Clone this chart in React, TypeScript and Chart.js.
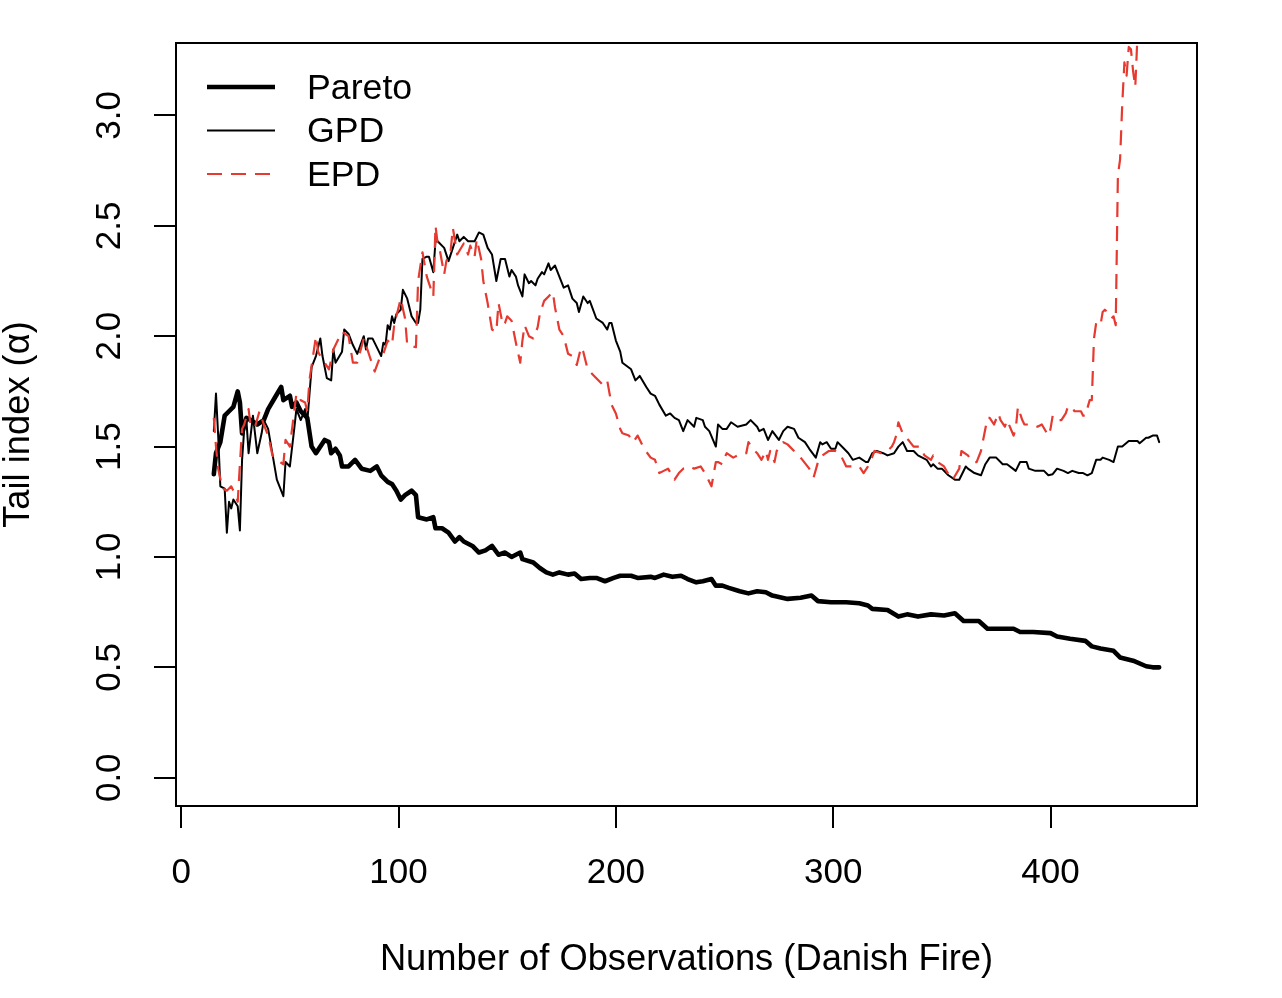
import React, { useEffect, useRef } from 'react';
import { Chart, registerables } from 'chart.js';

Chart.register(...registerables);

const xTicks = [0, 100, 200, 300, 400];
const yTicks = [0, 0.5, 1, 1.5, 2, 2.5, 3];
const xLimits = [-2.4, 467.4];
const yLimits = [-0.128, 3.328];
const xTitle = 'Number of Observations (Danish Fire)';
const yTitle = 'Tail index (\u03b1)';
const seriesLabels = ['Pareto', 'GPD', 'EPD'];

const paretoPoints: [number, number][] = [
  [15, 1.375], [16, 1.47], [18, 1.52], [20, 1.64], [22, 1.66], [24, 1.68], [26, 1.75], [27, 1.70], [28, 1.56], [30, 1.63],
  [32, 1.62], [35, 1.60], [38, 1.62], [40, 1.67], [43, 1.72], [46, 1.77], [47, 1.71], [50, 1.73], [51, 1.68], [53, 1.70],
  [55, 1.66], [58, 1.63], [60, 1.50], [62, 1.47], [66, 1.53], [68, 1.52], [69, 1.47], [71, 1.49], [73, 1.46], [74, 1.41],
  [77, 1.41], [80, 1.44], [83, 1.40], [87, 1.39], [90, 1.41], [92, 1.37], [95, 1.34], [97, 1.33], [99, 1.30], [101, 1.26],
  [103, 1.28], [106, 1.30], [108, 1.28], [109, 1.18], [113, 1.17], [116, 1.18], [117, 1.13], [120, 1.13], [123, 1.11], [126, 1.07],
  [128, 1.09], [130, 1.07], [134, 1.05], [137, 1.02], [140, 1.03], [143, 1.05], [146, 1.01], [149, 1.02], [152, 1.00], [156, 1.02],
  [157, 0.99], [162, 0.975], [165, 0.95], [168, 0.93], [171, 0.92], [174, 0.93], [178, 0.92], [181, 0.925], [184, 0.90], [188, 0.905],
  [191, 0.905], [195, 0.89], [199, 0.905], [202, 0.915], [207, 0.915], [210, 0.905], [216, 0.91], [218, 0.905], [222, 0.92], [226, 0.91],
  [230, 0.915], [233, 0.90], [237, 0.885], [240, 0.89], [244, 0.90], [246, 0.87], [249, 0.87], [252, 0.86], [257, 0.845], [261, 0.835],
  [265, 0.845], [269, 0.84], [272, 0.825], [279, 0.81], [285, 0.815], [290, 0.825], [293, 0.80], [299, 0.795], [306, 0.795], [312, 0.79],
  [316, 0.78], [318, 0.765], [325, 0.76], [330, 0.73], [334, 0.74], [339, 0.73], [345, 0.74], [351, 0.735], [356, 0.745], [360, 0.71],
  [367, 0.71], [371, 0.675], [377, 0.675], [383, 0.675], [386, 0.66], [392, 0.66], [400, 0.655], [403, 0.64], [409, 0.63], [416, 0.62],
  [419, 0.595], [423, 0.585], [429, 0.575], [432, 0.545], [438, 0.53], [444, 0.505], [447, 0.50], [450, 0.50],
];

const gpdPoints: [number, number][] = [
  [15, 1.57], [16, 1.74], [17, 1.55], [18, 1.32], [20, 1.31], [21, 1.11], [22, 1.25], [23, 1.22], [24, 1.26], [26, 1.23],
  [27, 1.12], [28, 1.44], [29, 1.58], [30, 1.62], [31, 1.47], [33, 1.64], [35, 1.47], [37, 1.56], [38, 1.62], [40, 1.58],
  [44, 1.35], [47, 1.275], [48, 1.43], [50, 1.41], [52, 1.58], [53, 1.67], [55, 1.62], [57, 1.67], [58, 1.61], [60, 1.86],
  [62, 1.91], [64, 1.99], [65, 1.91], [67, 1.81], [69, 1.80], [70, 1.94], [71, 1.88], [74, 1.93], [75, 2.03], [77, 2.01],
  [79, 1.96], [81, 1.92], [84, 2.00], [85, 1.94], [86, 1.99], [88, 1.99], [91, 1.93], [92, 1.91], [93, 1.97], [94, 1.96],
  [95, 2.05], [96, 2.03], [97, 2.09], [98, 2.06], [99, 2.10], [101, 2.12], [102, 2.21], [104, 2.17], [106, 2.09], [108, 2.06],
  [109, 2.06], [110, 2.12], [111, 2.35], [113, 2.36], [114, 2.36], [116, 2.29], [117, 2.43], [118, 2.43], [121, 2.40], [123, 2.34],
  [125, 2.40], [127, 2.46], [128, 2.43], [130, 2.45], [132, 2.43], [134, 2.43], [135, 2.43], [137, 2.47], [139, 2.46], [141, 2.40],
  [143, 2.37], [145, 2.25], [147, 2.35], [149, 2.35], [151, 2.27], [152, 2.30], [154, 2.27], [155, 2.23], [157, 2.18], [158, 2.28],
  [160, 2.24], [161, 2.25], [163, 2.23], [164, 2.26], [166, 2.29], [167, 2.28], [169, 2.33], [170, 2.30], [172, 2.32], [174, 2.27],
  [176, 2.22], [178, 2.23], [180, 2.17], [182, 2.15], [183, 2.11], [185, 2.18], [187, 2.15], [188, 2.16], [191, 2.08], [194, 2.06],
  [196, 2.03], [197, 2.06], [198, 2.06], [200, 1.98], [202, 1.93], [203, 1.88], [207, 1.85], [209, 1.80], [211, 1.82], [214, 1.77],
  [216, 1.74], [218, 1.73], [220, 1.69], [223, 1.64], [225, 1.65], [227, 1.63], [229, 1.62], [231, 1.57], [233, 1.62], [236, 1.59],
  [237, 1.63], [240, 1.62], [241, 1.59], [243, 1.57], [246, 1.50], [247, 1.60], [249, 1.58], [251, 1.58], [253, 1.61], [256, 1.59],
  [260, 1.60], [262, 1.62], [265, 1.59], [266, 1.57], [268, 1.58], [270, 1.53], [272, 1.57], [275, 1.53], [277, 1.57], [279, 1.59],
  [282, 1.58], [284, 1.54], [287, 1.52], [289, 1.49], [292, 1.45], [294, 1.52], [295, 1.51], [297, 1.52], [299, 1.49], [301, 1.49],
  [302, 1.52], [305, 1.49], [307, 1.47], [309, 1.44], [312, 1.45], [315, 1.43], [316, 1.43], [318, 1.47], [320, 1.48], [323, 1.47],
  [325, 1.46], [328, 1.47], [330, 1.50], [332, 1.52], [334, 1.48], [337, 1.48], [339, 1.46], [343, 1.44], [345, 1.41], [346, 1.42],
  [348, 1.40], [350, 1.40], [353, 1.37], [356, 1.35], [358, 1.35], [361, 1.41], [362, 1.40], [365, 1.38], [368, 1.37], [370, 1.42],
  [372, 1.45], [375, 1.45], [378, 1.42], [380, 1.42], [384, 1.39], [386, 1.43], [389, 1.43], [390, 1.40], [393, 1.39], [397, 1.39],
  [399, 1.37], [401, 1.375], [403, 1.40], [406, 1.39], [408, 1.38], [410, 1.39], [413, 1.38], [415, 1.38], [417, 1.37], [419, 1.38],
  [421, 1.44], [423, 1.44], [424, 1.45], [427, 1.44], [429, 1.43], [431, 1.50], [433, 1.50], [436, 1.525], [440, 1.525], [441, 1.515],
  [444, 1.54], [445, 1.54], [447, 1.55], [449, 1.55], [450, 1.52],
];

const epdPoints: [number, number][] = [
  [15, 1.63], [16, 1.50], [17, 1.40], [19, 1.31], [21, 1.30], [23, 1.32], [25, 1.28], [26, 1.25], [27, 1.42], [28, 1.58],
  [29, 1.60], [31, 1.67], [32, 1.59], [34, 1.59], [36, 1.66], [38, 1.60], [40, 1.55], [42, 1.46], [44, 1.44], [47, 1.42],
  [48, 1.53], [50, 1.50], [52, 1.66], [53, 1.74], [55, 1.71], [57, 1.70], [58, 1.66], [59, 1.80], [62, 2.00], [63, 1.93],
  [64, 1.91], [68, 1.85], [70, 1.94], [74, 2.02], [77, 2.00], [79, 1.88], [81, 1.88], [84, 1.99], [87, 1.90], [89, 1.84],
  [92, 1.92], [93, 1.92], [95, 1.98], [97, 1.96], [98, 2.05], [101, 2.17], [103, 2.08], [104, 1.96], [108, 1.95], [109, 2.25],
  [111, 2.38], [113, 2.27], [116, 2.18], [117, 2.50], [118, 2.42], [119, 2.39], [121, 2.28], [122, 2.34], [124, 2.39], [125, 2.49],
  [126, 2.43], [127, 2.37], [130, 2.42], [132, 2.37], [133, 2.41], [135, 2.36], [136, 2.44], [138, 2.35], [139, 2.25], [141, 2.15],
  [143, 2.03], [145, 2.02], [146, 2.15], [148, 2.05], [149, 2.06], [150, 2.09], [152, 2.07], [154, 1.97], [156, 1.88], [157, 1.98],
  [158, 2.05], [160, 2.00], [162, 1.99], [164, 2.04], [165, 2.10], [167, 2.16], [169, 2.18], [171, 2.20], [172, 2.13], [174, 2.03],
  [176, 2.00], [178, 1.92], [180, 1.91], [182, 1.87], [184, 1.95], [185, 1.93], [187, 1.85], [190, 1.82], [194, 1.78], [196, 1.80],
  [198, 1.69], [200, 1.65], [202, 1.58], [203, 1.56], [206, 1.55], [208, 1.52], [210, 1.55], [213, 1.49], [216, 1.45], [218, 1.44],
  [220, 1.38], [222, 1.39], [224, 1.40], [227, 1.35], [229, 1.38], [231, 1.40], [234, 1.41], [236, 1.40], [239, 1.41], [241, 1.38],
  [244, 1.32], [246, 1.43], [247, 1.43], [249, 1.42], [250, 1.45], [251, 1.47], [254, 1.45], [256, 1.46], [258, 1.47], [260, 1.47],
  [261, 1.52], [263, 1.49], [265, 1.47], [267, 1.44], [269, 1.48], [270, 1.44], [271, 1.48], [273, 1.43], [274, 1.48], [277, 1.52],
  [279, 1.51], [282, 1.48], [285, 1.45], [289, 1.40], [291, 1.36], [293, 1.43], [295, 1.46], [298, 1.48], [301, 1.48], [303, 1.47],
  [305, 1.43], [306, 1.41], [309, 1.41], [312, 1.41], [314, 1.38], [316, 1.41], [317, 1.43], [319, 1.48], [322, 1.47], [325, 1.48],
  [327, 1.50], [328, 1.52], [329, 1.55], [330, 1.61], [332, 1.56], [335, 1.525], [337, 1.50], [340, 1.50], [342, 1.46], [345, 1.44],
  [346, 1.46], [348, 1.43], [351, 1.41], [353, 1.375], [355, 1.35], [358, 1.40], [359, 1.48], [362, 1.46], [364, 1.43], [366, 1.43],
  [368, 1.48], [369, 1.53], [371, 1.63], [372, 1.63], [374, 1.60], [376, 1.65], [377, 1.62], [379, 1.59], [380, 1.62], [383, 1.55],
  [384, 1.58], [385, 1.68], [387, 1.62], [388, 1.60], [392, 1.60], [394, 1.59], [396, 1.60], [399, 1.55], [400, 1.58], [401, 1.64],
  [403, 1.62], [405, 1.62], [407, 1.65], [408, 1.68], [410, 1.68], [411, 1.66], [414, 1.66], [415, 1.64], [416, 1.64], [418, 1.71],
  [419, 1.71], [420, 1.99], [421, 2.06], [423, 2.05], [424, 2.11], [425, 2.12], [426, 2.11], [428, 2.08], [429, 2.09], [430, 2.05],
  [431, 2.73], [432, 2.80], [433, 3.05], [434, 3.24], [435, 3.18], [436, 3.31], [437, 3.30], [438, 3.20], [439, 3.13], [440, 3.36],
  [441, 3.45],
];

const FONT = "'Liberation Sans', Arial, Helvetica, sans-serif";
const TICK_SIZE = 35;
const LABEL_SIZE = 36.3;
const LEGEND_SIZE = 35.7;
const RED = '#E6392F';

const framePlugin = {
  id: 'rFrame',
  afterDatasetsDraw(chart: any) {
    const { ctx, chartArea: a } = chart;
    ctx.save();
    ctx.setLineDash([]);
    ctx.strokeStyle = '#000';
    ctx.lineWidth = 2;
    ctx.strokeRect(a.left, a.top, a.right - a.left, a.bottom - a.top);
    const rows = [44, 87.5, 131];
    chart.data.datasets.forEach((ds: any, i: number) => {
      const y = a.top + rows[i];
      ctx.beginPath();
      ctx.setLineDash(ds.borderDash || []);
      ctx.lineWidth = ds.borderWidth;
      ctx.strokeStyle = ds.borderColor;
      ctx.lineCap = 'butt';
      ctx.moveTo(a.left + 31, y);
      ctx.lineTo(a.left + 99, y);
      ctx.stroke();
      ctx.setLineDash([]);
      ctx.fillStyle = '#000';
      ctx.font = `${LEGEND_SIZE}px ${FONT}`;
      ctx.textBaseline = 'middle';
      ctx.textAlign = 'left';
      ctx.fillText(ds.label, a.left + 131, y + 2);
    });
    ctx.restore();
  },
};

const toXY = (pts: [number, number][]) => pts.map(([x, y]) => ({ x, y }));

export default function App() {
  const canvasRef = useRef<HTMLCanvasElement | null>(null);

  useEffect(() => {
    if (!canvasRef.current) return;
    const tickFont = { family: FONT, size: TICK_SIZE, lineHeight: 1.2 };
    const gridOpts = {
      display: true,
      drawOnChartArea: false,
      drawTicks: true,
      tickLength: 22,
      color: '#000',
      lineWidth: 2,
    };
    const chart = new Chart(canvasRef.current, {
      type: 'line',
      data: {
        datasets: [
          {
            label: seriesLabels[0],
            data: toXY(paretoPoints),
            borderColor: '#000',
            borderWidth: 4.6,
            pointRadius: 0,
            tension: 0,
            borderJoinStyle: 'round',
            borderCapStyle: 'round',
            order: 3,
            clip: 0,
          },
          {
            label: seriesLabels[1],
            data: toXY(gpdPoints),
            borderColor: '#000',
            borderWidth: 2,
            pointRadius: 0,
            tension: 0,
            borderJoinStyle: 'round',
            borderCapStyle: 'round',
            order: 2,
            clip: 0,
          },
          {
            label: seriesLabels[2],
            data: toXY(epdPoints),
            borderColor: RED,
            borderWidth: 2.2,
            borderDash: [15, 9],
            pointRadius: 0,
            tension: 0,
            borderJoinStyle: 'round',
            borderCapStyle: 'butt',
            order: 1,
            clip: 0,
          },
        ],
      } as any,
      options: {
        animation: false,
        responsive: false,
        events: [],
        layout: { padding: { top: 43, right: 85, left: 0, bottom: 0 } },
        plugins: { legend: { display: false }, tooltip: { enabled: false } },
        scales: {
          x: {
            type: 'linear',
            min: xLimits[0],
            max: xLimits[1],
            afterBuildTicks: (s: any) => {
              s.ticks = xTicks.map((v) => ({ value: v }));
            },
            afterFit: (s: any) => {
              s.height = 192;
            },
            grid: gridOpts,
            border: { display: false },
            ticks: {
              font: tickFont,
              color: '#000',
              padding: 24.5,
              maxRotation: 0,
              autoSkip: false,
              callback: (v: any) => String(v),
            },
            title: {
              display: true,
              text: xTitle,
              color: '#000',
              font: { family: FONT, size: LABEL_SIZE, lineHeight: 1 },
              padding: { top: 0, bottom: 20 },
            },
          },
          y: {
            type: 'linear',
            min: yLimits[0],
            max: yLimits[1],
            afterBuildTicks: (s: any) => {
              s.ticks = yTicks.map((v) => ({ value: v }));
            },
            afterFit: (s: any) => {
              s.width = 176;
            },
            grid: gridOpts,
            border: { display: false },
            ticks: {
              font: tickFont,
              color: '#000',
              padding: 19.5,
              minRotation: 90,
              maxRotation: 90,
              crossAlign: 'center',
              autoSkip: false,
              callback: (v: any) => Number(v).toFixed(1),
            },
            title: {
              display: true,
              text: yTitle,
              color: '#000',
              font: { family: FONT, size: LABEL_SIZE, lineHeight: 1 },
              padding: { top: 1, bottom: 0 },
            },
          },
        },
      } as any,
      plugins: [framePlugin],
    });
    return () => chart.destroy();
  }, []);

  return (
    <div style={{ position: 'absolute', left: 0, top: 0, width: 1282, height: 998, background: '#fff' }}>
      <canvas ref={canvasRef} width={1282} height={998} style={{ width: 1282, height: 998, display: 'block' }} />
    </div>
  );
}
